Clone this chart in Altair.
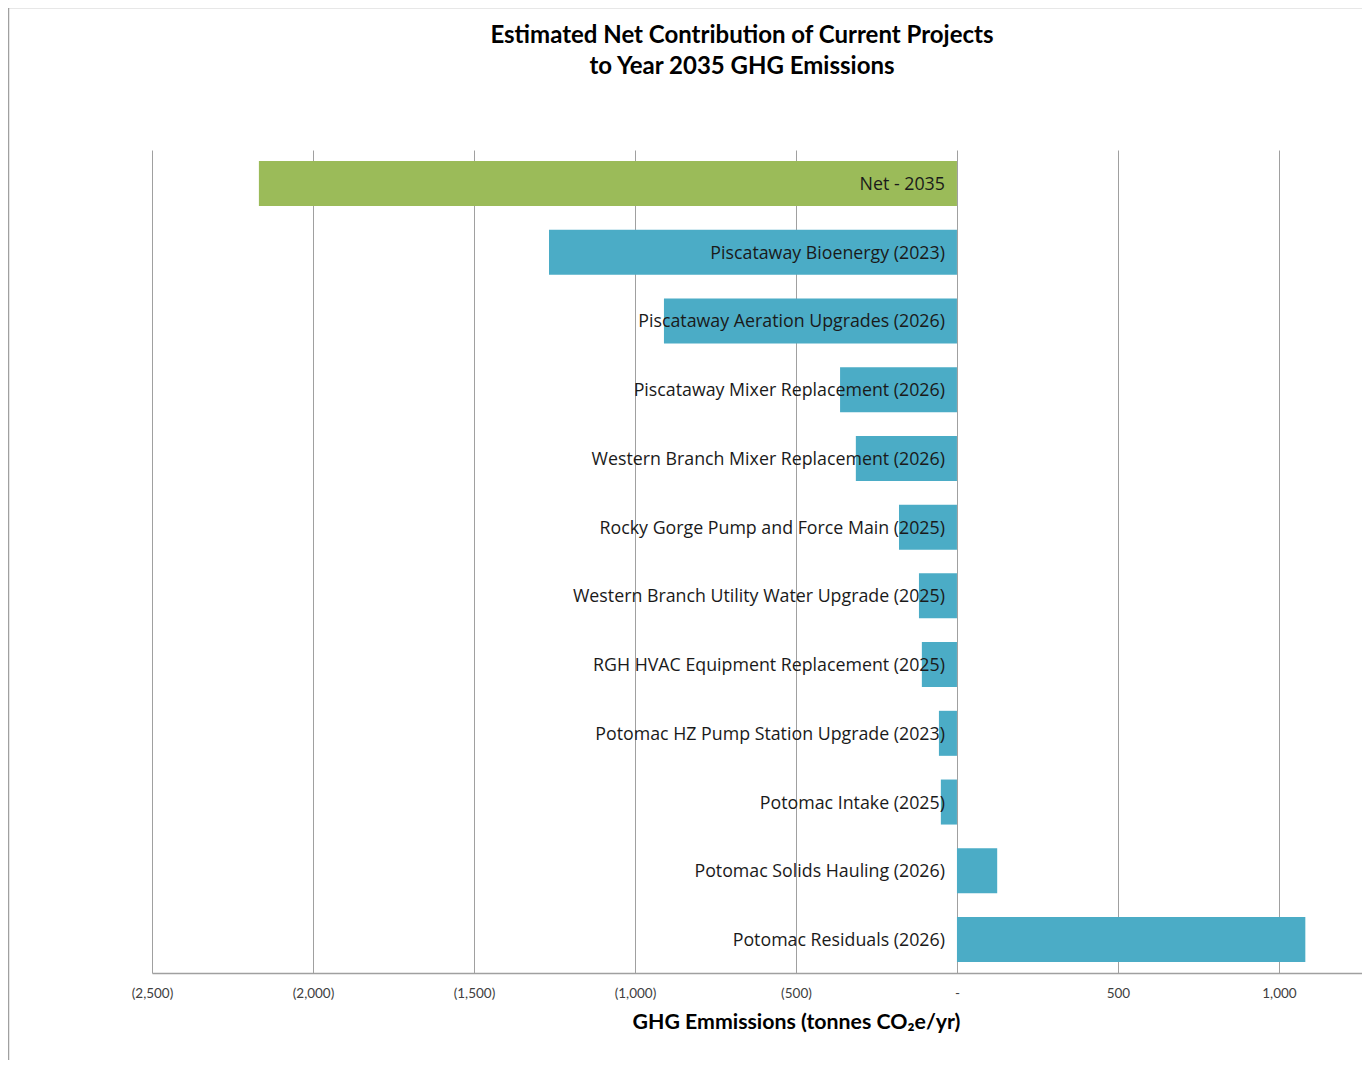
import altair as alt
import pandas as pd

projects = [
    "Net - 2035",
    "Piscataway Bioenergy (2023)",
    "Piscataway Aeration Upgrades (2026)",
    "Piscataway Mixer Replacement (2026)",
    "Western Branch Mixer Replacement (2026)",
    "Rocky Gorge Pump and Force Main (2025)",
    "Western Branch Utility Water Upgrade (2025)",
    "RGH HVAC Equipment Replacement (2025)",
    "Potomac HZ Pump Station Upgrade (2023)",
    "Potomac Intake (2025)",
    "Potomac Solids Hauling (2026)",
    "Potomac Residuals (2026)",
]
values = [-2168, -1267, -910, -363, -314, -180, -118, -109, -56, -50, 125, 1082]
kinds = ["Net"] + ["Project"] * 11
tick_values = [-2500, -2000, -1500, -1000, -500, 0, 500, 1000]

df = pd.DataFrame({"project": projects, "value": values, "kind": kinds})

W, H = 1210, 823

y_enc = alt.Y("project:N", sort=projects, axis=None,
              scale=alt.Scale(paddingInner=0.345, paddingOuter=0.16))

label_expr = ("datum.value < 0 ? '(' + format(-datum.value, ',') + ')' : "
              "(datum.value == 0 ? '-' : format(datum.value, ','))")

x_enc = alt.X(
    "value:Q",
    scale=alt.Scale(domain=[-2500, 1258], nice=False, zero=False),
    axis=alt.Axis(
        values=tick_values, labelExpr=label_expr, grid=True,
        gridColor="#a0a0a0", gridWidth=1,
        domainColor="#a0a0a0", domainWidth=1.5,
        ticks=False, labelFont="Lato", labelFontSize=13.5, labelColor="#404040",
        labelPadding=13, labelFlush=False, labelOverlap=False,
        title="GHG Emmissions (tonnes CO₂e/yr)",
        titleFont="Lato", titleFontSize=21.3, titleFontWeight="bold",
        titleColor="#000000", titleX=644, titleY=55, titleAlign="center",
        titleBaseline="alphabetic",
    ),
)

bars = alt.Chart(df).mark_bar().encode(
    x=x_enc,
    y=y_enc,
    color=alt.Color("kind:N", scale=alt.Scale(domain=["Net", "Project"],
                                              range=["#9BBB59", "#4BACC6"]),
                    legend=None),
)

labels = alt.Chart(df).mark_text(
    align="right", baseline="middle", dx=-12, dy=1.5, font="Open Sans",
    fontSize=17.8, color="#1a1a1a",
).encode(
    x=alt.datum(0),
    y=y_enc,
    text="project:N",
)

frame_df = pd.DataFrame({"a": [0]})
frame_left = alt.Chart(frame_df).mark_rule(color="#a0a0a0", strokeWidth=1.5).encode(
    x=alt.value(-143.5), y=alt.value(-142.5), y2=alt.value(930)
)
frame_top = alt.Chart(frame_df).mark_rule(color="#a0a0a0", strokeWidth=1.5).encode(
    x=alt.value(-143.5), x2=alt.value(1220), y=alt.value(-142.5)
)

chart = alt.layer(bars, labels, frame_left, frame_top).properties(
    width=W, height=H,
    autosize=alt.AutoSizeParams(type="none"),
    padding={"left": 144, "top": 142, "right": 0, "bottom": 87},
    title=alt.TitleParams(
        text=["Estimated Net Contribution of Current Projects",
              "to Year 2035 GHG Emissions"],
        font="Lato", fontSize=24, fontWeight="bold", color="#000000",
        anchor="middle", dx=-15, offset=-72, lineHeight=31,
    ),
).configure(background="white").configure_view(stroke=None)

chart.save("out.html", embed_options={"renderer": "svg", "actions": False})
